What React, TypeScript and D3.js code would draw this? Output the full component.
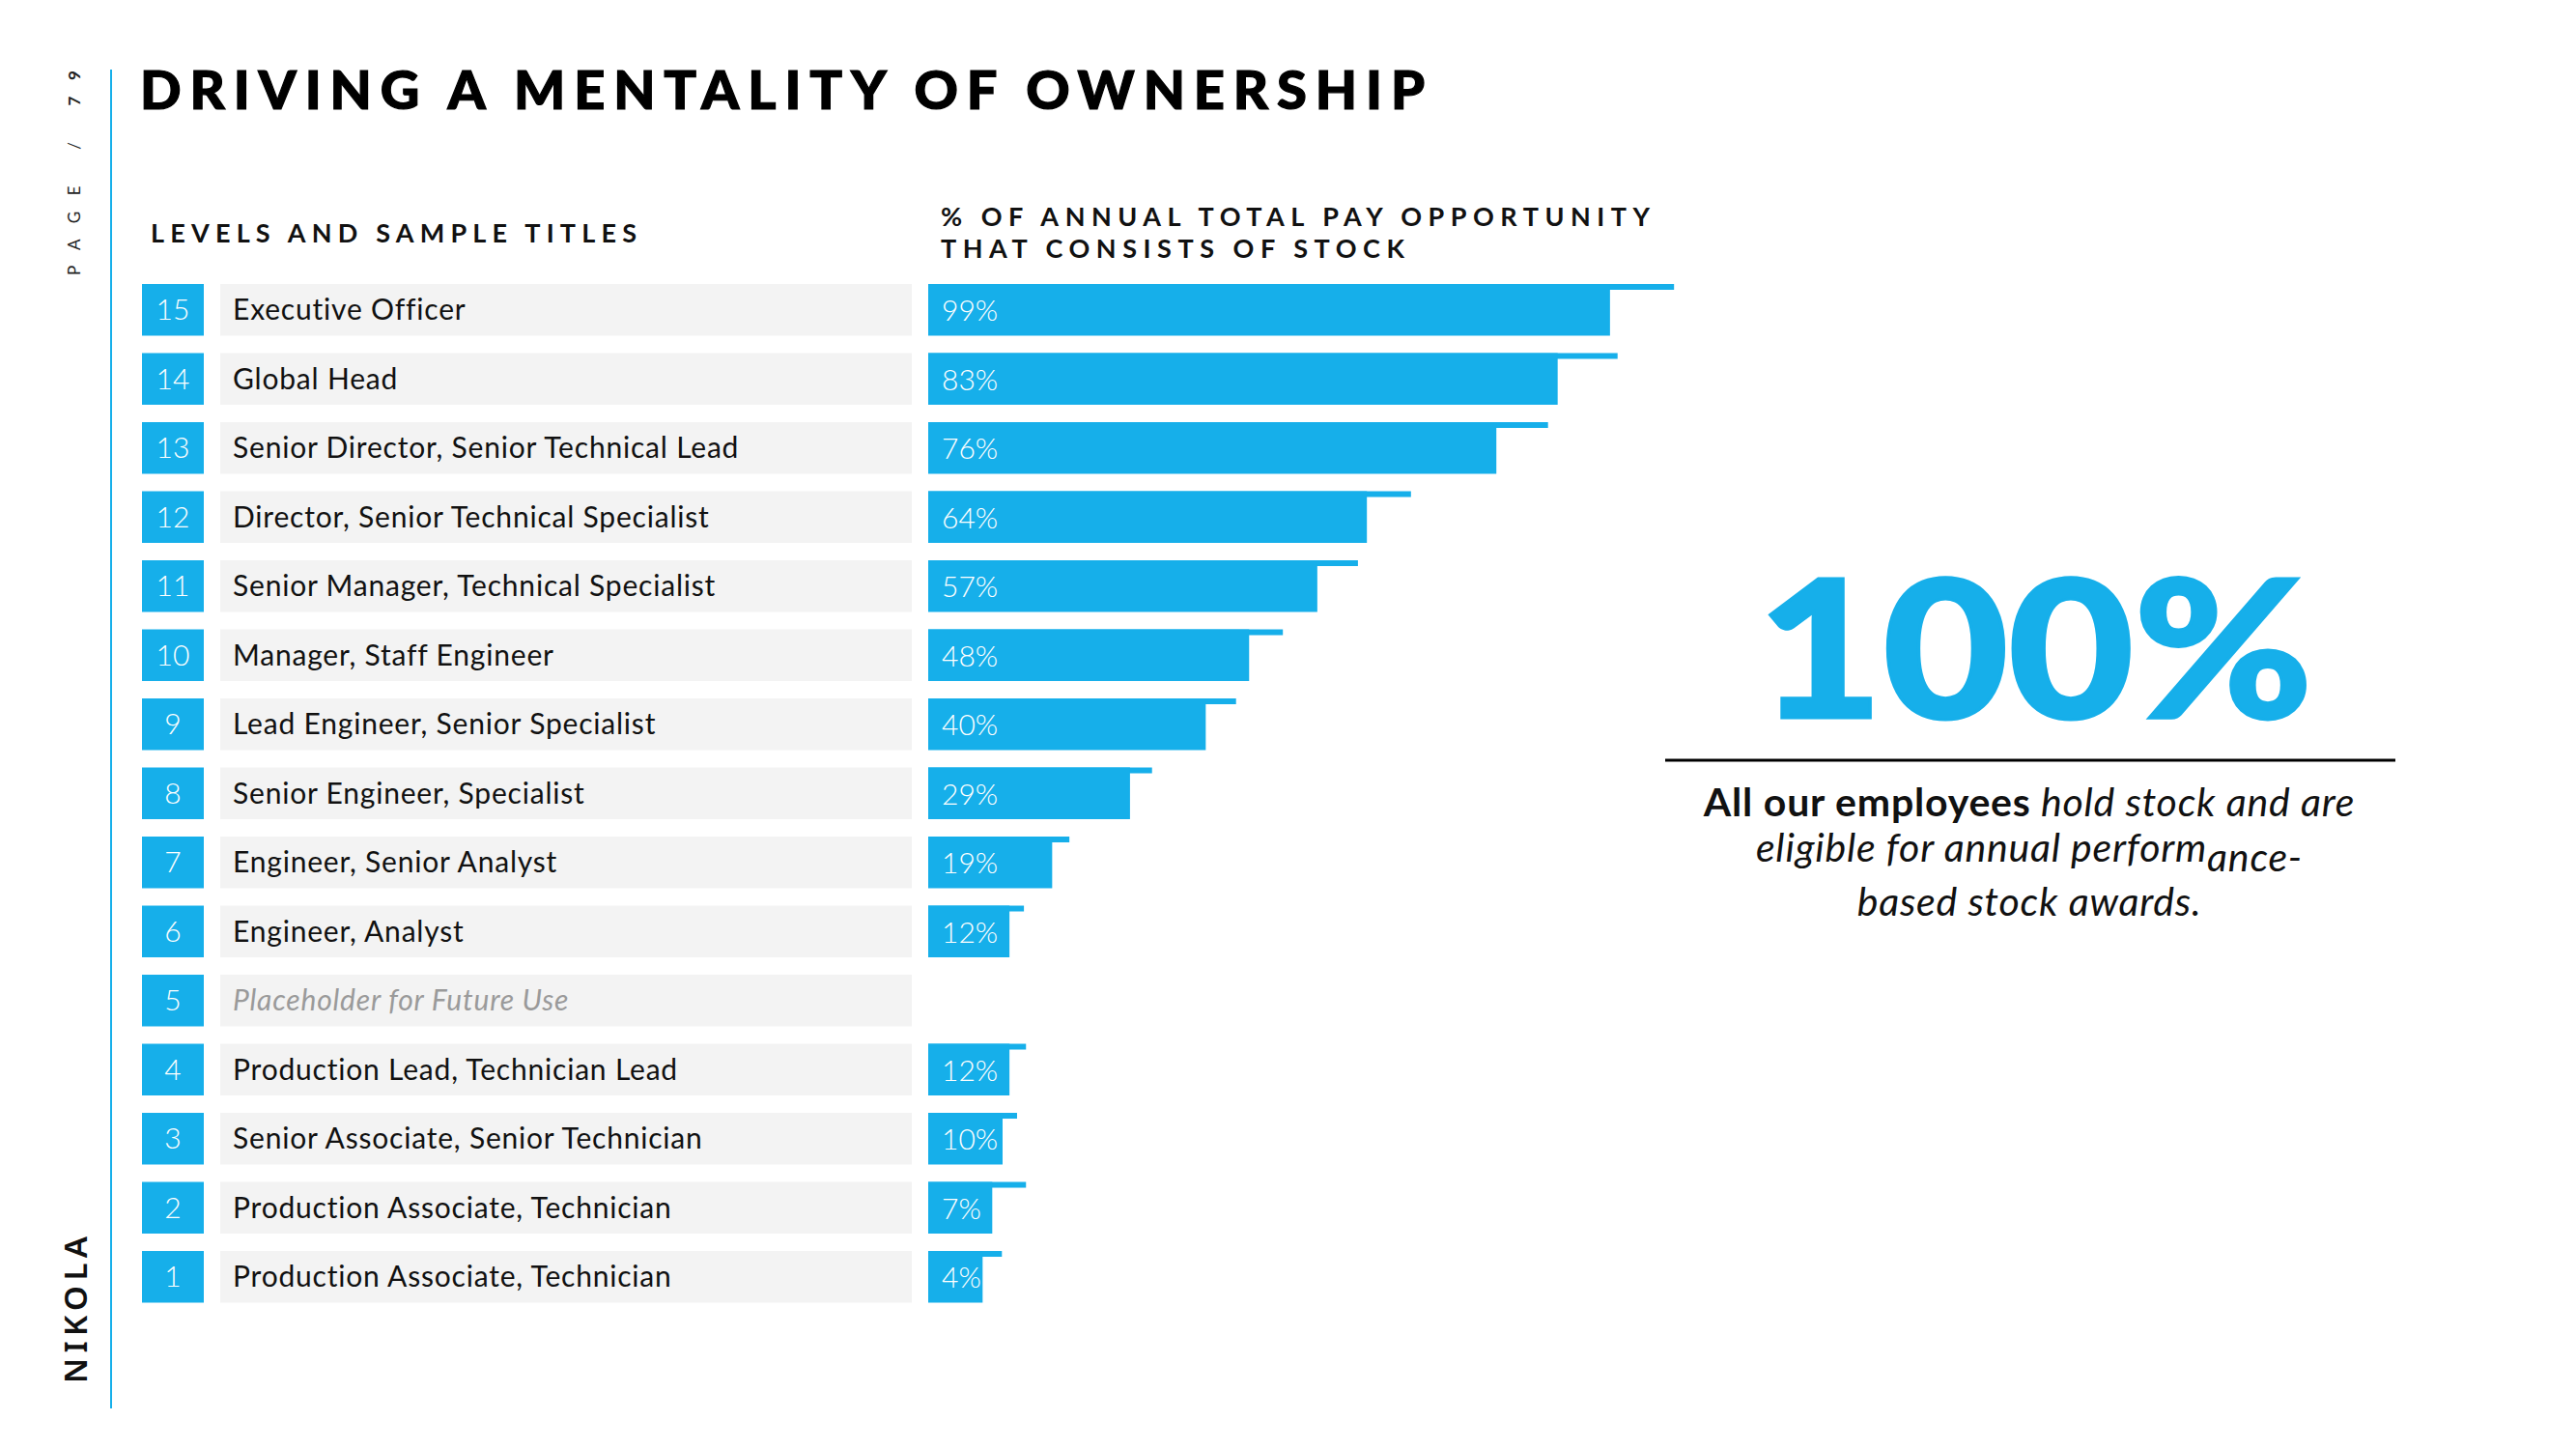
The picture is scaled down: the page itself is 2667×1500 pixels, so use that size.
import React from "react";
import * as d3 from "d3";

const levels = [15, 14, 13, 12, 11, 10, 9, 8, 7, 6, 5, 4, 3, 2, 1];
const titles = [
  "Executive Officer",
  "Global Head",
  "Senior Director, Senior Technical Lead",
  "Director, Senior Technical Specialist",
  "Senior Manager, Technical Specialist",
  "Manager, Staff Engineer",
  "Lead Engineer, Senior Specialist",
  "Senior Engineer, Specialist",
  "Engineer, Senior Analyst",
  "Engineer, Analyst",
  "Placeholder for Future Use",
  "Production Lead, Technician Lead",
  "Senior Associate, Senior Technician",
  "Production Associate, Technician",
  "Production Associate, Technician",
];
// stated % of annual total pay opportunity that consists of stock
const stockPct: (number | null)[] = [99, 83, 76, 64, 57, 48, 40, 29, 19, 12, null, 12, 10, 7, 4];
// bar lengths as drawn in the picture (percent units on the bar axis)
const barLength: (number | null)[] = [99.0, 91.4, 82.5, 63.7, 56.5, 46.6, 40.3, 29.3, 18.0, 11.8, null, 11.8, 10.8, 9.3, 7.9];
// thin strip along the top of each bar, as drawn (percent units)
const overhang: (number | null)[] = [108.3, 100.1, 90.0, 70.1, 62.4, 51.5, 44.7, 32.5, 20.5, 13.9, null, 14.2, 12.9, 14.2, 10.7];

const BLUE = "#16afea";
const FONT = "Lato, 'Open Sans', sans-serif";

export default function App() {
  const W = 2667;
  const H = 1500;
  const y = d3
    .scaleBand<number>()
    .domain(levels)
    .range([294, 1348.5])
    .paddingInner(0.252)
    .paddingOuter(0);
  const x = d3.scaleLinear().domain([0, 100]).range([961, 1674]);
  const bw = y.bandwidth();

  return (
    <svg
      width={W}
      height={H}
      viewBox={`0 0 ${W} ${H}`}
      style={{ position: "absolute", left: 0, top: 0, background: "#fff" }}
      fontFamily={FONT}
    >
      <rect x={0} y={0} width={W} height={H} fill="#fff" />
      {/* left rule */}
      <line x1={115} x2={115} y1={72} y2={1458} stroke={BLUE} strokeWidth={2} />
      {/* page number */}
      <text
        transform="translate(83,285) rotate(-90)"
        fontSize={17}
        fill="#222"
        textLength={212}
        lengthAdjust="spacing"
      >
        <tspan>PAGE / </tspan>
        <tspan fontWeight={700}>79</tspan>
      </text>
      {/* logo */}
      <text
        transform="translate(90,1432) rotate(-90)"
        fontSize={33}
        fontWeight={600}
        fill="#111"
        fontFamily="'Noto Sans', 'DejaVu Sans', sans-serif"
        textLength={152}
        lengthAdjust="spacing"
      >
        NIKOLA
      </text>
      {/* title */}
      <text
        x={145}
        y={113}
        fontSize={56}
        fontWeight={900}
        fill="#000"
        stroke="#000"
        strokeWidth={1.2}
        textLength={1330}
        lengthAdjust="spacing"
      >
        DRIVING A MENTALITY OF OWNERSHIP
      </text>
      {/* column headers */}
      <text x={156} y={251} fontSize={27} fontWeight={700} fill="#111" textLength={503} lengthAdjust="spacing">
        LEVELS AND SAMPLE TITLES
      </text>
      <text x={974} y={234} fontSize={27} fontWeight={700} fill="#111" textLength={734} lengthAdjust="spacing">
        % OF ANNUAL TOTAL PAY OPPORTUNITY
      </text>
      <text x={974} y={267} fontSize={27} fontWeight={700} fill="#111" textLength={480} lengthAdjust="spacing">
        THAT CONSISTS OF STOCK
      </text>

      {/* rows */}
      {levels.map((lv, i) => {
        const top = y(lv) as number;
        const pct = stockPct[i];
        const bl = barLength[i];
        const oh = overhang[i];
        const placeholder = pct === null;
        return (
          <g key={lv}>
            <rect x={147} y={top} width={64} height={bw} fill={BLUE} />
            <text x={179} y={top + 37} fontSize={30} fontWeight={300} fill="#fff" textAnchor="middle">
              {lv}
            </text>
            <rect x={228} y={top} width={716} height={bw} fill="#f3f3f3" />
            <text
              x={241}
              y={top + 37}
              fontSize={30}
              fontWeight={400}
              letterSpacing={0.8}
              fill={placeholder ? "#9a9a9a" : "#111"}
              fontStyle={placeholder ? "italic" : "normal"}
            >
              {titles[i]}
            </text>
            {oh !== null && (
              <rect x={x(0)} y={top} width={x(oh) - x(0)} height={6} fill={BLUE} />
            )}
            {bl !== null && (
              <rect x={x(0)} y={top} width={x(bl) - x(0)} height={bw} fill={BLUE} />
            )}
            {pct !== null && (
              <text x={975} y={top + 38} fontSize={30} fontWeight={300} fill="#fff">
                {pct}%
              </text>
            )}
          </g>
        );
      })}

      {/* right panel */}
      <text
        x={2107}
        y={743}
        fontSize={198}
        fontWeight={900}
        fill={BLUE}
        stroke={BLUE}
        strokeWidth={3}
        textAnchor="middle"
        textLength={575}
        lengthAdjust="spacingAndGlyphs"
      >
        100%
      </text>
      <line x1={1724} x2={2480} y1={787} y2={787} stroke="#000" strokeWidth={3} />
      <text x={2101} y={845} fontSize={41} letterSpacing={0.8} fill="#111" textAnchor="middle">
        <tspan fontWeight={700}>All our employees</tspan>
        <tspan fontStyle="italic" fontWeight={400}> hold stock and are</tspan>
      </text>
      <text x={2101} y={892} fontSize={41} letterSpacing={0.8} fill="#111" textAnchor="middle" fontStyle="italic">
        <tspan>eligible for annual perform</tspan>
        <tspan dy={10}>ance-</tspan>
      </text>
      <text x={2101} y={948} fontSize={41} letterSpacing={0.8} fill="#111" textAnchor="middle" fontStyle="italic">
        based stock awards.
      </text>
    </svg>
  );
}
